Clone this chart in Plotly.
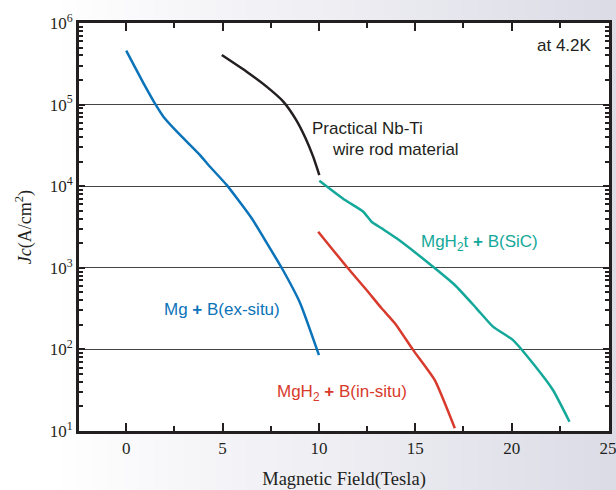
import plotly.graph_objects as go

# ---- data (Magnetic field in Tesla, Jc in A/cm^2) ----
mgb_x = [0, 0.90, 1.59, 1.93, 2.63, 3.83, 4.35, 5.22, 6.51, 7.2, 8.13, 9.02, 10.0]
mgb_y = [4.58e5, 1.82e5, 9.42e4, 7.11e4, 4.66e4, 2.41e4, 1.73e4, 1.03e4, 4.04e3,
         2.19e3, 940, 371, 85]

nbti_x = [4.96, 6.25, 7.3, 8.15, 8.8, 9.3, 9.7, 10.02]
nbti_y = [4.05e5, 2.53e5, 1.65e5, 1.09e5, 6.6e4, 3.9e4, 2.3e4, 1.37e4]

sic_x = [10.02, 11.35, 12.3, 12.73, 13.25, 14.03, 15.92, 17.05, 18.17, 19.03,
         20.07, 21.1, 22.14, 23.0]
sic_y = [1.17e4, 6.78e3, 4.87e3, 3.67e3, 3.05e3, 2.3e3, 1.03e3, 615, 319, 190,
         130, 67.6, 31.8, 13]

insitu_x = [9.96, 11.44, 12.47, 13.25, 13.94, 14.89, 16.01, 17.05]
insitu_y = [2.77e3, 1.03e3, 535, 319, 209, 98, 42, 10.8]

x_ticks = [0, 5, 10, 15, 20, 25]
y_tickvals = [1e1, 1e2, 1e3, 1e4, 1e5, 1e6]
y_ticktext = ["10<sup>1</sup>", "10<sup>2</sup>", "10<sup>3</sup>",
              "10<sup>4</sup>", "10<sup>5</sup>", "10<sup>6</sup>"]

BLUE = "#0b73b9"
BLACK = "#231f20"
TEAL = "#14a89a"
RED = "#d83a2c"
SERIF = "Liberation Serif"
SANS = "Liberation Sans"

fig = go.Figure()
for xs, ys, c in [(mgb_x, mgb_y, BLUE), (nbti_x, nbti_y, BLACK),
                  (sic_x, sic_y, TEAL), (insitu_x, insitu_y, RED)]:
    fig.add_trace(go.Scatter(x=xs, y=ys, mode="lines",
                             line=dict(color=c, width=2.5, shape="spline", smoothing=0.5)))

# background gradient (white on the left to pale lavender on the right)
W, H = 616, 490
ml, mr, mt, mb = 79, 7, 23, 59
pw = W - ml - mr
ph = H - mt - mb
shapes = []
n = 40
x_left = -ml / pw
x_right = 1 + mr / pw
for i in range(n):
    f = i / (n - 1)
    t = max(0.0, (f - 0.08) / 0.92)
    r = int(round(255 - t * (255 - 220)))
    g = int(round(255 - t * (255 - 220)))
    b = int(round(255 - t * (255 - 231)))
    x0 = x_left + (x_right - x_left) * i / n
    x1 = x_left + (x_right - x_left) * (i + 1) / n + 0.002
    shapes.append(dict(type="rect", xref="paper", yref="paper", x0=x0, x1=x1,
                       y0=-mb / ph, y1=1 + mt / ph, line=dict(width=0),
                       fillcolor=f"rgb({r},{g},{b})", layer="below"))
shapes.append(dict(type="rect", xref="paper", yref="paper", x0=0, x1=1, y0=0, y1=1,
                   line=dict(width=0), fillcolor="white", layer="below"))

AF = 17
annotations = [
    dict(x=0.972, y=0.945, xref="paper", yref="paper", text="at 4.2K",
         showarrow=False, xanchor="right", yanchor="middle",
         font=dict(family=SANS, size=AF, color=BLACK)),
    dict(x=9.53, y=4.713, text="Practical Nb-Ti", showarrow=False,
         xanchor="left", yanchor="middle", font=dict(family=SANS, size=AF, color=BLACK)),
    dict(x=10.57, y=4.444, text="wire rod material", showarrow=False,
         xanchor="left", yanchor="middle", font=dict(family=SANS, size=AF, color=BLACK)),
    dict(x=15.2, y=3.304, text="MgH<sub>2</sub>t <b>+</b> B(SiC)", showarrow=False,
         xanchor="left", yanchor="middle", font=dict(family=SANS, size=AF, color=TEAL)),
    dict(x=1.85, y=2.483, text="Mg <b>+</b> B(ex-situ)", showarrow=False,
         xanchor="left", yanchor="middle", font=dict(family=SANS, size=AF, color=BLUE)),
    dict(x=7.72, y=1.462, text="MgH<sub>2</sub> <b>+</b> B(in-situ)", showarrow=False,
         xanchor="left", yanchor="middle", font=dict(family=SANS, size=AF, color=RED)),
]

fig.update_layout(
    width=W, height=H,
    margin=dict(l=ml, r=mr, t=mt, b=mb),
    paper_bgcolor="#e8e8ef",
    plot_bgcolor="white",
    showlegend=False,
    shapes=shapes,
    annotations=annotations,
    font=dict(family=SERIF, size=16, color=BLACK),
)

fig.update_xaxes(
    range=[-2.45, 25.05],
    tickvals=x_ticks,
    automargin=False,
    ticklabeloverflow="allow",
    ticks="inside", ticklen=8, tickwidth=2, tickcolor=BLACK,
    minor=dict(dtick=2.5, tick0=0, ticks="inside", ticklen=5, tickwidth=2, tickcolor=BLACK),
    showline=True, linewidth=3, linecolor=BLACK, mirror="ticks",
    showgrid=False, zeroline=False,
    tickfont=dict(family=SERIF, size=17, color=BLACK),
    title=dict(text="Magnetic Field(Tesla)", standoff=25,
               font=dict(family=SERIF, size=18.5, color=BLACK)),
)

fig.update_yaxes(
    type="log", range=[1, 6],
    tickvals=y_tickvals, ticktext=y_ticktext,
    automargin=False,
    ticklabeloverflow="allow",
    ticks="inside", ticklen=6, tickwidth=2, tickcolor=BLACK,
    minor=dict(dtick="D1", ticks="inside", ticklen=4, tickwidth=1.5, tickcolor=BLACK, showgrid=False),
    showline=True, linewidth=3, linecolor=BLACK, mirror="ticks",
    showgrid=True, gridcolor="#444444", gridwidth=1,
    zeroline=False,
    tickfont=dict(family=SERIF, size=17, color=BLACK),
    title=dict(text="<i>Jc</i>(A/cm<sup>2</sup>)", standoff=14,
               font=dict(family=SERIF, size=18, color=BLACK)),
)

fig.write_html("out.html")
